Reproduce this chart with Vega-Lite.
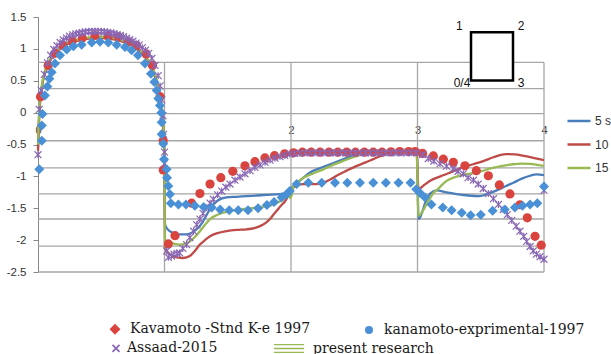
{
  "$schema": "https://vega.github.io/schema/vega-lite/v6.json",
  "width": 506,
  "height": 255,
  "autosize": {"type": "none"},
  "padding": {"left": 38, "top": 17, "right": 67, "bottom": 82},
  "background": "white",
  "config": {"view": {"stroke": null}, "font": "Liberation Sans", "axis": {"labelOverlap": false, "labelSeparation": 0}, "axisY": {"labelOverlap": false}},
  "datasets": {
    "lines": [
      {"series": "5 s", "x": 0, "y": -0.55}, {"series": "5 s", "x": 0.01, "y": 0.0}, {"series": "5 s", "x": 0.03, "y": 0.4}, {"series": "5 s", "x": 0.06, "y": 0.66}, {"series": "5 s", "x": 0.1, "y": 0.84}, {"series": "5 s", "x": 0.15, "y": 0.97}, {"series": "5 s", "x": 0.2, "y": 1.05}, {"series": "5 s", "x": 0.3, "y": 1.13}, {"series": "5 s", "x": 0.4, "y": 1.17}, {"series": "5 s", "x": 0.5, "y": 1.18}, {"series": "5 s", "x": 0.6, "y": 1.16}, {"series": "5 s", "x": 0.7, "y": 1.1}, {"series": "5 s", "x": 0.8, "y": 0.98}, {"series": "5 s", "x": 0.86, "y": 0.85}, {"series": "5 s", "x": 0.9, "y": 0.72}, {"series": "5 s", "x": 0.94, "y": 0.48}, {"series": "5 s", "x": 0.97, "y": 0.18}, {"series": "5 s", "x": 0.99, "y": -0.2}, {"series": "5 s", "x": 0.998, "y": -0.6},
      {"series": "5 s", "x": 1.004, "y": -1.75}, {"series": "5 s", "x": 1.02, "y": -1.82}, {"series": "5 s", "x": 1.07, "y": -1.89}, {"series": "5 s", "x": 1.12, "y": -1.91}, {"series": "5 s", "x": 1.175, "y": -1.91}, {"series": "5 s", "x": 1.22, "y": -1.88}, {"series": "5 s", "x": 1.255, "y": -1.83}, {"series": "5 s", "x": 1.3, "y": -1.72}, {"series": "5 s", "x": 1.334, "y": -1.6}, {"series": "5 s", "x": 1.37, "y": -1.48}, {"series": "5 s", "x": 1.413, "y": -1.39}, {"series": "5 s", "x": 1.45, "y": -1.35}, {"series": "5 s", "x": 1.49, "y": -1.33}, {"series": "5 s", "x": 1.57, "y": -1.32}, {"series": "5 s", "x": 1.65, "y": -1.31}, {"series": "5 s", "x": 1.73, "y": -1.3}, {"series": "5 s", "x": 1.81, "y": -1.29}, {"series": "5 s", "x": 1.913, "y": -1.28}, {"series": "5 s", "x": 1.96, "y": -1.25}, {"series": "5 s", "x": 1.99, "y": -1.2}, {"series": "5 s", "x": 2.02, "y": -1.15}, {"series": "5 s", "x": 2.08, "y": -1.05}, {"series": "5 s", "x": 2.15, "y": -0.94}, {"series": "5 s", "x": 2.23, "y": -0.87}, {"series": "5 s", "x": 2.31, "y": -0.81}, {"series": "5 s", "x": 2.39, "y": -0.75}, {"series": "5 s", "x": 2.466, "y": -0.69}, {"series": "5 s", "x": 2.53, "y": -0.65}, {"series": "5 s", "x": 2.6, "y": -0.625}, {"series": "5 s", "x": 2.7, "y": -0.62}, {"series": "5 s", "x": 2.8, "y": -0.62}, {"series": "5 s", "x": 2.9, "y": -0.62}, {"series": "5 s", "x": 2.995, "y": -0.62}, {"series": "5 s", "x": 3.0, "y": -1.0}, {"series": "5 s", "x": 3.008, "y": -1.67}, {"series": "5 s", "x": 3.03, "y": -1.6}, {"series": "5 s", "x": 3.06, "y": -1.42}, {"series": "5 s", "x": 3.1, "y": -1.27}, {"series": "5 s", "x": 3.15, "y": -1.22}, {"series": "5 s", "x": 3.23, "y": -1.25}, {"series": "5 s", "x": 3.31, "y": -1.28}, {"series": "5 s", "x": 3.4, "y": -1.3}, {"series": "5 s", "x": 3.49, "y": -1.31}, {"series": "5 s", "x": 3.56, "y": -1.27}, {"series": "5 s", "x": 3.626, "y": -1.22}, {"series": "5 s", "x": 3.7, "y": -1.15}, {"series": "5 s", "x": 3.757, "y": -1.1}, {"series": "5 s", "x": 3.82, "y": -1.04}, {"series": "5 s", "x": 3.89, "y": -0.99}, {"series": "5 s", "x": 3.94, "y": -0.97}, {"series": "5 s", "x": 4.0, "y": -0.98},

      {"series": "10 s", "x": 0, "y": -0.6}, {"series": "10 s", "x": 0.01, "y": -0.05}, {"series": "10 s", "x": 0.03, "y": 0.38}, {"series": "10 s", "x": 0.06, "y": 0.65}, {"series": "10 s", "x": 0.1, "y": 0.83}, {"series": "10 s", "x": 0.15, "y": 0.96}, {"series": "10 s", "x": 0.2, "y": 1.04}, {"series": "10 s", "x": 0.3, "y": 1.12}, {"series": "10 s", "x": 0.4, "y": 1.16}, {"series": "10 s", "x": 0.5, "y": 1.17}, {"series": "10 s", "x": 0.6, "y": 1.15}, {"series": "10 s", "x": 0.7, "y": 1.09}, {"series": "10 s", "x": 0.8, "y": 0.97}, {"series": "10 s", "x": 0.86, "y": 0.84}, {"series": "10 s", "x": 0.9, "y": 0.7}, {"series": "10 s", "x": 0.94, "y": 0.46}, {"series": "10 s", "x": 0.97, "y": 0.15}, {"series": "10 s", "x": 0.99, "y": -0.25}, {"series": "10 s", "x": 0.998, "y": -0.65},
      {"series": "10 s", "x": 1.004, "y": -2.12}, {"series": "10 s", "x": 1.03, "y": -2.2}, {"series": "10 s", "x": 1.057, "y": -2.24}, {"series": "10 s", "x": 1.1, "y": -2.27}, {"series": "10 s", "x": 1.15, "y": -2.28}, {"series": "10 s", "x": 1.2, "y": -2.25}, {"series": "10 s", "x": 1.24, "y": -2.17}, {"series": "10 s", "x": 1.28, "y": -2.07}, {"series": "10 s", "x": 1.32, "y": -2.0}, {"series": "10 s", "x": 1.36, "y": -1.94}, {"series": "10 s", "x": 1.42, "y": -1.89}, {"series": "10 s", "x": 1.49, "y": -1.86}, {"series": "10 s", "x": 1.57, "y": -1.84}, {"series": "10 s", "x": 1.65, "y": -1.83}, {"series": "10 s", "x": 1.71, "y": -1.81}, {"series": "10 s", "x": 1.755, "y": -1.78}, {"series": "10 s", "x": 1.8, "y": -1.73}, {"series": "10 s", "x": 1.834, "y": -1.67}, {"series": "10 s", "x": 1.865, "y": -1.59}, {"series": "10 s", "x": 1.887, "y": -1.54}, {"series": "10 s", "x": 1.92, "y": -1.46}, {"series": "10 s", "x": 1.953, "y": -1.39}, {"series": "10 s", "x": 1.98, "y": -1.3}, {"series": "10 s", "x": 2.0, "y": -1.22}, {"series": "10 s", "x": 2.05, "y": -1.14}, {"series": "10 s", "x": 2.1, "y": -1.12}, {"series": "10 s", "x": 2.15, "y": -1.12}, {"series": "10 s", "x": 2.2, "y": -1.12}, {"series": "10 s", "x": 2.255, "y": -1.1}, {"series": "10 s", "x": 2.31, "y": -1.05}, {"series": "10 s", "x": 2.36, "y": -0.99}, {"series": "10 s", "x": 2.44, "y": -0.91}, {"series": "10 s", "x": 2.52, "y": -0.835}, {"series": "10 s", "x": 2.59, "y": -0.78}, {"series": "10 s", "x": 2.65, "y": -0.73}, {"series": "10 s", "x": 2.71, "y": -0.68}, {"series": "10 s", "x": 2.757, "y": -0.65}, {"series": "10 s", "x": 2.8, "y": -0.63}, {"series": "10 s", "x": 2.84, "y": -0.62}, {"series": "10 s", "x": 2.9, "y": -0.615}, {"series": "10 s", "x": 2.97, "y": -0.61}, {"series": "10 s", "x": 2.995, "y": -0.62}, {"series": "10 s", "x": 3.0, "y": -0.9}, {"series": "10 s", "x": 3.008, "y": -1.2}, {"series": "10 s", "x": 3.05, "y": -1.14}, {"series": "10 s", "x": 3.1, "y": -1.07}, {"series": "10 s", "x": 3.18, "y": -1.0}, {"series": "10 s", "x": 3.26, "y": -0.94}, {"series": "10 s", "x": 3.34, "y": -0.87}, {"series": "10 s", "x": 3.44, "y": -0.81}, {"series": "10 s", "x": 3.52, "y": -0.76}, {"series": "10 s", "x": 3.6, "y": -0.7}, {"series": "10 s", "x": 3.7, "y": -0.65}, {"series": "10 s", "x": 3.77, "y": -0.655}, {"series": "10 s", "x": 3.84, "y": -0.68}, {"series": "10 s", "x": 3.915, "y": -0.71}, {"series": "10 s", "x": 4.0, "y": -0.745},

      {"series": "15 s", "x": 0, "y": -0.5}, {"series": "15 s", "x": 0.01, "y": 0.05}, {"series": "15 s", "x": 0.03, "y": 0.42}, {"series": "15 s", "x": 0.06, "y": 0.68}, {"series": "15 s", "x": 0.1, "y": 0.86}, {"series": "15 s", "x": 0.15, "y": 0.98}, {"series": "15 s", "x": 0.2, "y": 1.06}, {"series": "15 s", "x": 0.3, "y": 1.14}, {"series": "15 s", "x": 0.4, "y": 1.18}, {"series": "15 s", "x": 0.5, "y": 1.19}, {"series": "15 s", "x": 0.6, "y": 1.17}, {"series": "15 s", "x": 0.7, "y": 1.11}, {"series": "15 s", "x": 0.8, "y": 0.99}, {"series": "15 s", "x": 0.86, "y": 0.86}, {"series": "15 s", "x": 0.9, "y": 0.73}, {"series": "15 s", "x": 0.94, "y": 0.5}, {"series": "15 s", "x": 0.97, "y": 0.2}, {"series": "15 s", "x": 0.99, "y": -0.15}, {"series": "15 s", "x": 0.998, "y": -0.55},
      {"series": "15 s", "x": 1.004, "y": -2.12}, {"series": "15 s", "x": 1.02, "y": -2.05}, {"series": "15 s", "x": 1.043, "y": -2.03}, {"series": "15 s", "x": 1.08, "y": -2.06}, {"series": "15 s", "x": 1.12, "y": -2.07}, {"series": "15 s", "x": 1.16, "y": -2.06}, {"series": "15 s", "x": 1.2, "y": -2.02}, {"series": "15 s", "x": 1.24, "y": -1.95}, {"series": "15 s", "x": 1.28, "y": -1.86}, {"series": "15 s", "x": 1.32, "y": -1.76}, {"series": "15 s", "x": 1.36, "y": -1.67}, {"series": "15 s", "x": 1.41, "y": -1.61}, {"series": "15 s", "x": 1.465, "y": -1.57}, {"series": "15 s", "x": 1.53, "y": -1.54}, {"series": "15 s", "x": 1.597, "y": -1.52}, {"series": "15 s", "x": 1.66, "y": -1.505}, {"series": "15 s", "x": 1.73, "y": -1.49}, {"series": "15 s", "x": 1.79, "y": -1.475}, {"series": "15 s", "x": 1.834, "y": -1.46}, {"series": "15 s", "x": 1.87, "y": -1.43}, {"series": "15 s", "x": 1.913, "y": -1.39}, {"series": "15 s", "x": 1.95, "y": -1.33}, {"series": "15 s", "x": 1.98, "y": -1.28}, {"series": "15 s", "x": 1.995, "y": -1.34}, {"series": "15 s", "x": 2.005, "y": -1.3}, {"series": "15 s", "x": 2.02, "y": -1.15}, {"series": "15 s", "x": 2.06, "y": -1.08}, {"series": "15 s", "x": 2.1, "y": -1.02}, {"series": "15 s", "x": 2.18, "y": -0.95}, {"series": "15 s", "x": 2.255, "y": -0.89}, {"series": "15 s", "x": 2.33, "y": -0.82}, {"series": "15 s", "x": 2.41, "y": -0.76}, {"series": "15 s", "x": 2.49, "y": -0.7}, {"series": "15 s", "x": 2.57, "y": -0.65}, {"series": "15 s", "x": 2.64, "y": -0.625}, {"series": "15 s", "x": 2.7, "y": -0.62}, {"series": "15 s", "x": 2.8, "y": -0.62}, {"series": "15 s", "x": 2.9, "y": -0.62}, {"series": "15 s", "x": 2.99, "y": -0.62}, {"series": "15 s", "x": 3.0, "y": -1.0}, {"series": "15 s", "x": 3.005, "y": -1.62}, {"series": "15 s", "x": 3.04, "y": -1.55}, {"series": "15 s", "x": 3.07, "y": -1.44}, {"series": "15 s", "x": 3.1, "y": -1.34}, {"series": "15 s", "x": 3.125, "y": -1.26}, {"series": "15 s", "x": 3.15, "y": -1.22}, {"series": "15 s", "x": 3.2, "y": -1.12}, {"series": "15 s", "x": 3.23, "y": -1.07}, {"series": "15 s", "x": 3.3, "y": -1.01}, {"series": "15 s", "x": 3.39, "y": -0.965}, {"series": "15 s", "x": 3.47, "y": -0.94}, {"series": "15 s", "x": 3.57, "y": -0.88}, {"series": "15 s", "x": 3.66, "y": -0.84}, {"series": "15 s", "x": 3.757, "y": -0.81}, {"series": "15 s", "x": 3.82, "y": -0.8}, {"series": "15 s", "x": 3.89, "y": -0.805}, {"series": "15 s", "x": 3.95, "y": -0.82}, {"series": "15 s", "x": 4.0, "y": -0.835}
    ],
    "kav": [
      {"series": "Kavamoto  -Stnd K-e  1997", "x": 0.02, "y": 0.25}, {"series": "Kavamoto  -Stnd K-e  1997", "x": 0.08, "y": 0.74}, {"series": "Kavamoto  -Stnd K-e  1997", "x": 0.135, "y": 0.93}, {"series": "Kavamoto  -Stnd K-e  1997", "x": 0.2, "y": 1.05}, {"series": "Kavamoto  -Stnd K-e  1997", "x": 0.27, "y": 1.12}, {"series": "Kavamoto  -Stnd K-e  1997", "x": 0.35, "y": 1.17}, {"series": "Kavamoto  -Stnd K-e  1997", "x": 0.45, "y": 1.21}, {"series": "Kavamoto  -Stnd K-e  1997", "x": 0.555, "y": 1.2}, {"series": "Kavamoto  -Stnd K-e  1997", "x": 0.635, "y": 1.19}, {"series": "Kavamoto  -Stnd K-e  1997", "x": 0.715, "y": 1.11}, {"series": "Kavamoto  -Stnd K-e  1997", "x": 0.78, "y": 1.05}, {"series": "Kavamoto  -Stnd K-e  1997", "x": 0.855, "y": 0.92}, {"series": "Kavamoto  -Stnd K-e  1997", "x": 0.905, "y": 0.74}, {"series": "Kavamoto  -Stnd K-e  1997", "x": 0.965, "y": 0.25}, {"series": "Kavamoto  -Stnd K-e  1997", "x": 0.99, "y": -0.44}, {"series": "Kavamoto  -Stnd K-e  1997", "x": 0.99, "y": -0.9}, {"series": "Kavamoto  -Stnd K-e  1997", "x": 1.03, "y": -2.06}, {"series": "Kavamoto  -Stnd K-e  1997", "x": 1.083, "y": -1.93}, {"series": "Kavamoto  -Stnd K-e  1997", "x": 1.215, "y": -1.42}, {"series": "Kavamoto  -Stnd K-e  1997", "x": 1.28, "y": -1.27}, {"series": "Kavamoto  -Stnd K-e  1997", "x": 1.36, "y": -1.12}, {"series": "Kavamoto  -Stnd K-e  1997", "x": 1.445, "y": -1.02}, {"series": "Kavamoto  -Stnd K-e  1997", "x": 1.54, "y": -0.92}, {"series": "Kavamoto  -Stnd K-e  1997", "x": 1.636, "y": -0.835}, {"series": "Kavamoto  -Stnd K-e  1997", "x": 1.715, "y": -0.77}, {"series": "Kavamoto  -Stnd K-e  1997", "x": 1.794, "y": -0.71}, {"series": "Kavamoto  -Stnd K-e  1997", "x": 1.87, "y": -0.675}, {"series": "Kavamoto  -Stnd K-e  1997", "x": 1.95, "y": -0.645}, {"series": "Kavamoto  -Stnd K-e  1997", "x": 2.02, "y": -0.63}, {"series": "Kavamoto  -Stnd K-e  1997", "x": 2.09, "y": -0.62}, {"series": "Kavamoto  -Stnd K-e  1997", "x": 2.16, "y": -0.62}, {"series": "Kavamoto  -Stnd K-e  1997", "x": 2.23, "y": -0.62}, {"series": "Kavamoto  -Stnd K-e  1997", "x": 2.3, "y": -0.62}, {"series": "Kavamoto  -Stnd K-e  1997", "x": 2.37, "y": -0.62}, {"series": "Kavamoto  -Stnd K-e  1997", "x": 2.44, "y": -0.62}, {"series": "Kavamoto  -Stnd K-e  1997", "x": 2.51, "y": -0.62}, {"series": "Kavamoto  -Stnd K-e  1997", "x": 2.58, "y": -0.62}, {"series": "Kavamoto  -Stnd K-e  1997", "x": 2.65, "y": -0.62}, {"series": "Kavamoto  -Stnd K-e  1997", "x": 2.72, "y": -0.62}, {"series": "Kavamoto  -Stnd K-e  1997", "x": 2.79, "y": -0.615}, {"series": "Kavamoto  -Stnd K-e  1997", "x": 2.86, "y": -0.61}, {"series": "Kavamoto  -Stnd K-e  1997", "x": 2.93, "y": -0.61}, {"series": "Kavamoto  -Stnd K-e  1997", "x": 2.98, "y": -0.61}, {"series": "Kavamoto  -Stnd K-e  1997", "x": 3.04, "y": -0.64}, {"series": "Kavamoto  -Stnd K-e  1997", "x": 3.125, "y": -0.68}, {"series": "Kavamoto  -Stnd K-e  1997", "x": 3.204, "y": -0.73}, {"series": "Kavamoto  -Stnd K-e  1997", "x": 3.283, "y": -0.78}, {"series": "Kavamoto  -Stnd K-e  1997", "x": 3.375, "y": -0.835}, {"series": "Kavamoto  -Stnd K-e  1997", "x": 3.465, "y": -0.91}, {"series": "Kavamoto  -Stnd K-e  1997", "x": 3.56, "y": -0.99}, {"series": "Kavamoto  -Stnd K-e  1997", "x": 3.647, "y": -1.135}, {"series": "Kavamoto  -Stnd K-e  1997", "x": 3.731, "y": -1.275}, {"series": "Kavamoto  -Stnd K-e  1997", "x": 3.81, "y": -1.445}, {"series": "Kavamoto  -Stnd K-e  1997", "x": 3.868, "y": -1.65}, {"series": "Kavamoto  -Stnd K-e  1997", "x": 3.929, "y": -1.94}, {"series": "Kavamoto  -Stnd K-e  1997", "x": 3.978, "y": -2.08}
    ],
    "kan": [
      {"series": "kanamoto-exprimental-1997", "x": 0.01, "y": -0.89}, {"series": "kanamoto-exprimental-1997", "x": 0.03, "y": -0.44}, {"series": "kanamoto-exprimental-1997", "x": 0.03, "y": -0.2}, {"series": "kanamoto-exprimental-1997", "x": 0.035, "y": -0.02}, {"series": "kanamoto-exprimental-1997", "x": 0.055, "y": 0.27}, {"series": "kanamoto-exprimental-1997", "x": 0.074, "y": 0.41}, {"series": "kanamoto-exprimental-1997", "x": 0.09, "y": 0.53}, {"series": "kanamoto-exprimental-1997", "x": 0.108, "y": 0.635}, {"series": "kanamoto-exprimental-1997", "x": 0.134, "y": 0.77}, {"series": "kanamoto-exprimental-1997", "x": 0.174, "y": 0.9}, {"series": "kanamoto-exprimental-1997", "x": 0.227, "y": 0.99}, {"series": "kanamoto-exprimental-1997", "x": 0.28, "y": 1.04}, {"series": "kanamoto-exprimental-1997", "x": 0.345, "y": 1.066}, {"series": "kanamoto-exprimental-1997", "x": 0.425, "y": 1.1}, {"series": "kanamoto-exprimental-1997", "x": 0.49, "y": 1.11}, {"series": "kanamoto-exprimental-1997", "x": 0.556, "y": 1.1}, {"series": "kanamoto-exprimental-1997", "x": 0.622, "y": 1.066}, {"series": "kanamoto-exprimental-1997", "x": 0.688, "y": 1.03}, {"series": "kanamoto-exprimental-1997", "x": 0.74, "y": 0.98}, {"series": "kanamoto-exprimental-1997", "x": 0.79, "y": 0.9}, {"series": "kanamoto-exprimental-1997", "x": 0.846, "y": 0.77}, {"series": "kanamoto-exprimental-1997", "x": 0.893, "y": 0.61}, {"series": "kanamoto-exprimental-1997", "x": 0.92, "y": 0.48}, {"series": "kanamoto-exprimental-1997", "x": 0.938, "y": 0.35}, {"series": "kanamoto-exprimental-1997", "x": 0.951, "y": 0.22}, {"series": "kanamoto-exprimental-1997", "x": 0.964, "y": 0.11}, {"series": "kanamoto-exprimental-1997", "x": 0.975, "y": 0.0}, {"series": "kanamoto-exprimental-1997", "x": 0.978, "y": -0.15}, {"series": "kanamoto-exprimental-1997", "x": 0.978, "y": -0.34}, {"series": "kanamoto-exprimental-1997", "x": 0.99, "y": -0.49}, {"series": "kanamoto-exprimental-1997", "x": 0.996, "y": -0.73}, {"series": "kanamoto-exprimental-1997", "x": 1.017, "y": -0.89}, {"series": "kanamoto-exprimental-1997", "x": 1.02, "y": -1.02}, {"series": "kanamoto-exprimental-1997", "x": 1.03, "y": -1.15}, {"series": "kanamoto-exprimental-1997", "x": 1.043, "y": -1.28}, {"series": "kanamoto-exprimental-1997", "x": 1.05, "y": -1.42}, {"series": "kanamoto-exprimental-1997", "x": 1.11, "y": -1.44}, {"series": "kanamoto-exprimental-1997", "x": 1.17, "y": -1.44}, {"series": "kanamoto-exprimental-1997", "x": 1.24, "y": -1.46}, {"series": "kanamoto-exprimental-1997", "x": 1.31, "y": -1.48}, {"series": "kanamoto-exprimental-1997", "x": 1.373, "y": -1.49}, {"series": "kanamoto-exprimental-1997", "x": 1.44, "y": -1.52}, {"series": "kanamoto-exprimental-1997", "x": 1.512, "y": -1.53}, {"series": "kanamoto-exprimental-1997", "x": 1.583, "y": -1.53}, {"series": "kanamoto-exprimental-1997", "x": 1.66, "y": -1.53}, {"series": "kanamoto-exprimental-1997", "x": 1.74, "y": -1.5}, {"series": "kanamoto-exprimental-1997", "x": 1.81, "y": -1.45}, {"series": "kanamoto-exprimental-1997", "x": 1.866, "y": -1.4}, {"series": "kanamoto-exprimental-1997", "x": 1.926, "y": -1.33}, {"series": "kanamoto-exprimental-1997", "x": 1.966, "y": -1.28}, {"series": "kanamoto-exprimental-1997", "x": 1.99, "y": -1.23}, {"series": "kanamoto-exprimental-1997", "x": 2.045, "y": -1.12}, {"series": "kanamoto-exprimental-1997", "x": 2.137, "y": -1.1}, {"series": "kanamoto-exprimental-1997", "x": 2.243, "y": -1.1}, {"series": "kanamoto-exprimental-1997", "x": 2.348, "y": -1.1}, {"series": "kanamoto-exprimental-1997", "x": 2.445, "y": -1.1}, {"series": "kanamoto-exprimental-1997", "x": 2.545, "y": -1.1}, {"series": "kanamoto-exprimental-1997", "x": 2.65, "y": -1.1}, {"series": "kanamoto-exprimental-1997", "x": 2.75, "y": -1.1}, {"series": "kanamoto-exprimental-1997", "x": 2.85, "y": -1.1}, {"series": "kanamoto-exprimental-1997", "x": 2.945, "y": -1.1}, {"series": "kanamoto-exprimental-1997", "x": 2.99, "y": -1.2}, {"series": "kanamoto-exprimental-1997", "x": 3.02, "y": -1.26}, {"series": "kanamoto-exprimental-1997", "x": 3.06, "y": -1.33}, {"series": "kanamoto-exprimental-1997", "x": 3.11, "y": -1.44}, {"series": "kanamoto-exprimental-1997", "x": 3.2, "y": -1.49}, {"series": "kanamoto-exprimental-1997", "x": 3.27, "y": -1.53}, {"series": "kanamoto-exprimental-1997", "x": 3.35, "y": -1.57}, {"series": "kanamoto-exprimental-1997", "x": 3.42, "y": -1.61}, {"series": "kanamoto-exprimental-1997", "x": 3.5, "y": -1.6}, {"series": "kanamoto-exprimental-1997", "x": 3.594, "y": -1.54}, {"series": "kanamoto-exprimental-1997", "x": 3.69, "y": -1.52}, {"series": "kanamoto-exprimental-1997", "x": 3.77, "y": -1.49}, {"series": "kanamoto-exprimental-1997", "x": 3.83, "y": -1.46}, {"series": "kanamoto-exprimental-1997", "x": 3.89, "y": -1.44}, {"series": "kanamoto-exprimental-1997", "x": 3.947, "y": -1.42}, {"series": "kanamoto-exprimental-1997", "x": 4.0, "y": -1.16}
    ],
    "assaad": [
      {"series": "Assaad-2015", "x": 0.0, "y": -0.66}, {"series": "Assaad-2015", "x": 0.01, "y": 0.05}, {"series": "Assaad-2015", "x": 0.025, "y": 0.35}, {"series": "Assaad-2015", "x": 0.05, "y": 0.6}, {"series": "Assaad-2015", "x": 0.075, "y": 0.78}, {"series": "Assaad-2015", "x": 0.1, "y": 0.9}, {"series": "Assaad-2015", "x": 0.125, "y": 0.99}, {"series": "Assaad-2015", "x": 0.15, "y": 1.05}, {"series": "Assaad-2015", "x": 0.175, "y": 1.1}, {"series": "Assaad-2015", "x": 0.2, "y": 1.14}, {"series": "Assaad-2015", "x": 0.225, "y": 1.17}, {"series": "Assaad-2015", "x": 0.25, "y": 1.2}, {"series": "Assaad-2015", "x": 0.275, "y": 1.22}, {"series": "Assaad-2015", "x": 0.3, "y": 1.235}, {"series": "Assaad-2015", "x": 0.325, "y": 1.245}, {"series": "Assaad-2015", "x": 0.35, "y": 1.255}, {"series": "Assaad-2015", "x": 0.375, "y": 1.265}, {"series": "Assaad-2015", "x": 0.4, "y": 1.27}, {"series": "Assaad-2015", "x": 0.425, "y": 1.275}, {"series": "Assaad-2015", "x": 0.45, "y": 1.275}, {"series": "Assaad-2015", "x": 0.475, "y": 1.275}, {"series": "Assaad-2015", "x": 0.5, "y": 1.27}, {"series": "Assaad-2015", "x": 0.525, "y": 1.265}, {"series": "Assaad-2015", "x": 0.55, "y": 1.26}, {"series": "Assaad-2015", "x": 0.575, "y": 1.25}, {"series": "Assaad-2015", "x": 0.6, "y": 1.24}, {"series": "Assaad-2015", "x": 0.625, "y": 1.225}, {"series": "Assaad-2015", "x": 0.65, "y": 1.21}, {"series": "Assaad-2015", "x": 0.675, "y": 1.19}, {"series": "Assaad-2015", "x": 0.7, "y": 1.17}, {"series": "Assaad-2015", "x": 0.725, "y": 1.145}, {"series": "Assaad-2015", "x": 0.75, "y": 1.12}, {"series": "Assaad-2015", "x": 0.775, "y": 1.09}, {"series": "Assaad-2015", "x": 0.8, "y": 1.06}, {"series": "Assaad-2015", "x": 0.825, "y": 1.02}, {"series": "Assaad-2015", "x": 0.85, "y": 0.98}, {"series": "Assaad-2015", "x": 0.875, "y": 0.93}, {"series": "Assaad-2015", "x": 0.9, "y": 0.85}, {"series": "Assaad-2015", "x": 0.925, "y": 0.74}, {"series": "Assaad-2015", "x": 0.95, "y": 0.58}, {"series": "Assaad-2015", "x": 0.965, "y": 0.42}, {"series": "Assaad-2015", "x": 0.978, "y": 0.2}, {"series": "Assaad-2015", "x": 0.988, "y": -0.05}, {"series": "Assaad-2015", "x": 0.992, "y": -0.34}, {"series": "Assaad-2015", "x": 1.0, "y": -0.62}, {"series": "Assaad-2015", "x": 1.0, "y": -0.8},
      {"series": "Assaad-2015", "x": 1.017, "y": -2.17}, {"series": "Assaad-2015", "x": 1.03, "y": -2.27}, {"series": "Assaad-2015", "x": 1.055, "y": -2.25}, {"series": "Assaad-2015", "x": 1.075, "y": -2.22}, {"series": "Assaad-2015", "x": 1.1, "y": -2.21}, {"series": "Assaad-2015", "x": 1.12, "y": -2.2}, {"series": "Assaad-2015", "x": 1.145, "y": -2.13}, {"series": "Assaad-2015", "x": 1.175, "y": -2.07}, {"series": "Assaad-2015", "x": 1.2, "y": -1.96}, {"series": "Assaad-2015", "x": 1.23, "y": -1.86}, {"series": "Assaad-2015", "x": 1.255, "y": -1.76}, {"series": "Assaad-2015", "x": 1.28, "y": -1.67}, {"series": "Assaad-2015", "x": 1.305, "y": -1.58}, {"series": "Assaad-2015", "x": 1.334, "y": -1.49}, {"series": "Assaad-2015", "x": 1.36, "y": -1.42}, {"series": "Assaad-2015", "x": 1.386, "y": -1.36}, {"series": "Assaad-2015", "x": 1.42, "y": -1.29}, {"series": "Assaad-2015", "x": 1.452, "y": -1.23}, {"series": "Assaad-2015", "x": 1.485, "y": -1.17}, {"series": "Assaad-2015", "x": 1.518, "y": -1.12}, {"series": "Assaad-2015", "x": 1.557, "y": -1.06}, {"series": "Assaad-2015", "x": 1.597, "y": -1.01}, {"series": "Assaad-2015", "x": 1.636, "y": -0.96}, {"series": "Assaad-2015", "x": 1.676, "y": -0.91}, {"series": "Assaad-2015", "x": 1.715, "y": -0.86}, {"series": "Assaad-2015", "x": 1.755, "y": -0.82}, {"series": "Assaad-2015", "x": 1.795, "y": -0.78}, {"series": "Assaad-2015", "x": 1.834, "y": -0.745}, {"series": "Assaad-2015", "x": 1.873, "y": -0.715}, {"series": "Assaad-2015", "x": 1.913, "y": -0.69}, {"series": "Assaad-2015", "x": 1.95, "y": -0.67}, {"series": "Assaad-2015", "x": 1.99, "y": -0.65},
      {"series": "Assaad-2015", "x": 2.03, "y": -0.64}, {"series": "Assaad-2015", "x": 2.07, "y": -0.635}, {"series": "Assaad-2015", "x": 2.11, "y": -0.63}, {"series": "Assaad-2015", "x": 2.15, "y": -0.63}, {"series": "Assaad-2015", "x": 2.19, "y": -0.63}, {"series": "Assaad-2015", "x": 2.23, "y": -0.63}, {"series": "Assaad-2015", "x": 2.27, "y": -0.63}, {"series": "Assaad-2015", "x": 2.31, "y": -0.63}, {"series": "Assaad-2015", "x": 2.35, "y": -0.63}, {"series": "Assaad-2015", "x": 2.39, "y": -0.63}, {"series": "Assaad-2015", "x": 2.43, "y": -0.63}, {"series": "Assaad-2015", "x": 2.47, "y": -0.63}, {"series": "Assaad-2015", "x": 2.51, "y": -0.63}, {"series": "Assaad-2015", "x": 2.55, "y": -0.63}, {"series": "Assaad-2015", "x": 2.59, "y": -0.63}, {"series": "Assaad-2015", "x": 2.63, "y": -0.63}, {"series": "Assaad-2015", "x": 2.67, "y": -0.63}, {"series": "Assaad-2015", "x": 2.71, "y": -0.63}, {"series": "Assaad-2015", "x": 2.75, "y": -0.63}, {"series": "Assaad-2015", "x": 2.79, "y": -0.63}, {"series": "Assaad-2015", "x": 2.83, "y": -0.63}, {"series": "Assaad-2015", "x": 2.87, "y": -0.63}, {"series": "Assaad-2015", "x": 2.91, "y": -0.63}, {"series": "Assaad-2015", "x": 2.95, "y": -0.63}, {"series": "Assaad-2015", "x": 2.99, "y": -0.63},
      {"series": "Assaad-2015", "x": 3.04, "y": -0.66}, {"series": "Assaad-2015", "x": 3.085, "y": -0.72}, {"series": "Assaad-2015", "x": 3.13, "y": -0.76}, {"series": "Assaad-2015", "x": 3.178, "y": -0.8}, {"series": "Assaad-2015", "x": 3.23, "y": -0.84}, {"series": "Assaad-2015", "x": 3.283, "y": -0.88}, {"series": "Assaad-2015", "x": 3.32, "y": -0.92}, {"series": "Assaad-2015", "x": 3.362, "y": -0.96}, {"series": "Assaad-2015", "x": 3.4, "y": -1.02}, {"series": "Assaad-2015", "x": 3.442, "y": -1.06}, {"series": "Assaad-2015", "x": 3.48, "y": -1.12}, {"series": "Assaad-2015", "x": 3.52, "y": -1.19}, {"series": "Assaad-2015", "x": 3.56, "y": -1.27}, {"series": "Assaad-2015", "x": 3.6, "y": -1.35}, {"series": "Assaad-2015", "x": 3.64, "y": -1.44}, {"series": "Assaad-2015", "x": 3.678, "y": -1.52}, {"series": "Assaad-2015", "x": 3.71, "y": -1.6}, {"series": "Assaad-2015", "x": 3.745, "y": -1.69}, {"series": "Assaad-2015", "x": 3.78, "y": -1.78}, {"series": "Assaad-2015", "x": 3.81, "y": -1.86}, {"series": "Assaad-2015", "x": 3.84, "y": -1.94}, {"series": "Assaad-2015", "x": 3.863, "y": -2.02}, {"series": "Assaad-2015", "x": 3.89, "y": -2.1}, {"series": "Assaad-2015", "x": 3.915, "y": -2.17}, {"series": "Assaad-2015", "x": 3.94, "y": -2.22}, {"series": "Assaad-2015", "x": 3.968, "y": -2.26}, {"series": "Assaad-2015", "x": 4.0, "y": -2.3}, {"series": "Assaad-2015", "x": 4.0, "y": -1.22}
    ]
  },
  "layer": [
    {
      "data": {"values": [{"g": 0.787}, {"g": 0.378}, {"g": -0.016}, {"g": -0.441}, {"g": -0.866}, {"g": -1.276}, {"g": -1.669}, {"g": -2.094}, {"g": -2.5}]},
      "mark": {"type": "rule", "color": "#a6a6a6", "strokeWidth": 1.3},
      "encoding": {
        "y": {"field": "g", "type": "quantitative",
              "scale": {"domain": [-2.5, 1.5], "nice": false, "zero": false},
              "axis": {"title": null, "grid": false, "values": [-2.5, -2, -1.5, -1, -0.5, 0, 0.5, 1, 1.5], "tickCount": 9,
                       "labelExpr": "toString(datum.value)", "domainColor": "#888888", "tickColor": "#888888", "tickSize": 5,
                       "labelPadding": 7, "labelFontSize": 11.5, "labelColor": "#333333", "labelFont": "Liberation Sans",
                       "labelFlush": false, "labelOverlap": false, "labelSeparation": 0, "labelBound": false}},
        "x": {"datum": 0, "type": "quantitative"},
        "x2": {"datum": 4}
      }
    },
    {
      "data": {"values": [{"v": 1}, {"v": 2}, {"v": 3}, {"v": 4}]},
      "mark": {"type": "rule", "color": "#a6a6a6", "strokeWidth": 1.3},
      "encoding": {
        "x": {"field": "v", "type": "quantitative"},
        "y": {"datum": 0.787, "type": "quantitative"},
        "y2": {"datum": -2.5}
      }
    },
    {
      "data": {"name": "lines"},
      "mark": {"type": "line", "strokeWidth": 2.3, "interpolate": "monotone", "clip": false},
      "encoding": {
        "x": {"field": "x", "type": "quantitative",
              "scale": {"domain": [0, 4], "nice": false, "zero": false},
              "axis": {"title": null, "orient": "bottom", "offset": -160, "domain": false, "ticks": false, "grid": false,
                       "values": [0, 1, 2, 3, 4], "labelExpr": "datum.value == 1 ? '' : toString(datum.value)",
                       "labelFlush": false, "labelOverlap": false, "labelPadding": 12, "labelFontSize": 11, "labelColor": "#404040", "labelFont": "Liberation Sans"}},
        "y": {"field": "y", "type": "quantitative",
              "axis": {"title": null, "grid": false, "values": [-2.5, -2, -1.5, -1, -0.5, 0, 0.5, 1, 1.5], "tickCount": 9,
                       "labelExpr": "toString(datum.value)", "domainColor": "#888888", "tickColor": "#888888", "tickSize": 5,
                       "labelPadding": 7, "labelFontSize": 11.5, "labelColor": "#333333", "labelFont": "Liberation Sans",
                       "labelFlush": false, "labelOverlap": false, "labelSeparation": 0, "labelBound": false}},
        "color": {"field": "series", "type": "nominal",
                  "scale": {"domain": ["5 s", "10 s", "15 s"], "range": ["#4a7ebb", "#be4b48", "#98b954"]},
                  "legend": {"orient": "none", "legendX": 528, "legendY": 91, "title": null, "symbolType": "stroke",
                             "symbolStrokeWidth": 2.5, "symbolSize": 529, "labelFontSize": 12, "labelFont": "Liberation Sans",
                             "labelColor": "#333333", "rowPadding": 4.5, "padding": 0, "labelOffset": 3, "labelLimit": 0}}
      }
    },
    {
      "data": {"name": "kav"},
      "mark": {"type": "point", "shape": "circle", "filled": true, "size": 85, "opacity": 1},
      "encoding": {
        "x": {"field": "x", "type": "quantitative"},
        "y": {"field": "y", "type": "quantitative"},
        "fill": {"field": "series", "type": "nominal",
                 "scale": {"domain": ["Kavamoto  -Stnd K-e  1997", "kanamoto-exprimental-1997"], "range": ["#d9443f", "#4990d6"]},
                 "legend": {"orient": "none", "direction": "horizontal", "legendX": 70, "legendY": 305, "title": null,
                            "symbolSize": 121, "labelOffset": 8, "columnPadding": 42, "padding": 0, "labelLimit": 0,
                            "labelFont": "DejaVu Serif", "labelFontSize": 14, "labelColor": "#1a1a1a",
                            "encoding": {"symbols": {
                              "shape": {"value": {"expr": "datum.value === 'kanamoto-exprimental-1997' ? 'circle' : 'diamond'"}},
                              "fill": {"value": {"expr": "datum.value === 'kanamoto-exprimental-1997' ? '#5b9bd5' : '#ee1111'"}},
                              "size": {"value": {"expr": "datum.value === 'kanamoto-exprimental-1997' ? 64 : 121"}}}}}}
      }
    },
    {
      "data": {"name": "assaad"},
      "mark": {"type": "point", "shape": "M-1,-1L1,1M-1,1L1,-1M0,-1L0,1", "filled": false, "size": 48, "strokeWidth": 1.2, "opacity": 1},
      "encoding": {
        "x": {"field": "x", "type": "quantitative"},
        "y": {"field": "y", "type": "quantitative"},
        "stroke": {"field": "series", "type": "nominal",
                   "scale": {"domain": ["Assaad-2015", "present research"], "range": ["#8867b5", "#98b954"]},
                   "legend": {"orient": "none", "direction": "horizontal", "legendX": 71, "legendY": 324, "title": null,
                              "symbolSize": 49, "labelOffset": 4, "columnPadding": 53, "padding": 0, "labelLimit": 0,
                              "labelFont": "DejaVu Serif", "labelFontSize": 14, "labelColor": "#1a1a1a",
                              "encoding": {"symbols": {
                                "shape": {"value": {"expr": "datum.value === 'present research' ? 'M-8,-1.1L0.6,-1.1M-8,0L0.6,0M-8,1.1L0.6,1.1' : 'M-1,-1L1,1M-1,1L1,-1'"}},
                                "size": {"value": 49},
                                "strokeWidth": {"value": {"expr": "datum.value === 'present research' ? 1.3 : 1.8"}},
                                "stroke": {"value": {"expr": "datum.value === 'present research' ? '#8fc06a' : '#5e4596'"}}}}}}
      }
    },
    {
      "data": {"name": "kan"},
      "mark": {"type": "point", "shape": "diamond", "filled": true, "size": 100, "opacity": 1},
      "encoding": {
        "x": {"field": "x", "type": "quantitative"},
        "y": {"field": "y", "type": "quantitative"},
        "fill": {"field": "series", "type": "nominal"}
      }
    },
    {
      "data": {"values": [{}]},
      "mark": {"type": "rect", "fill": "white", "stroke": "black", "strokeWidth": 2.5, "clip": false},
      "encoding": {
        "x": {"datum": 3.423, "type": "quantitative"},
        "x2": {"datum": 3.755},
        "y": {"datum": 1.26, "type": "quantitative"},
        "y2": {"datum": 0.504}
      }
    },
    {
      "data": {"values": [{}]},
      "mark": {"type": "text", "text": "1", "fontSize": 12, "font": "Liberation Sans", "color": "#111111"},
      "encoding": {"x": {"datum": 3.33, "type": "quantitative"}, "y": {"datum": 1.36, "type": "quantitative"}}
    },
    {
      "data": {"values": [{}]},
      "mark": {"type": "text", "text": "2", "fontSize": 12, "font": "Liberation Sans", "color": "#111111"},
      "encoding": {"x": {"datum": 3.818, "type": "quantitative"}, "y": {"datum": 1.36, "type": "quantitative"}}
    },
    {
      "data": {"values": [{}]},
      "mark": {"type": "text", "text": "0/4", "fontSize": 12, "font": "Liberation Sans", "color": "#111111"},
      "encoding": {"x": {"datum": 3.352, "type": "quantitative"}, "y": {"datum": 0.47, "type": "quantitative"}}
    },
    {
      "data": {"values": [{}]},
      "mark": {"type": "text", "text": "3", "fontSize": 12, "font": "Liberation Sans", "color": "#111111"},
      "encoding": {"x": {"datum": 3.818, "type": "quantitative"}, "y": {"datum": 0.47, "type": "quantitative"}}
    }
  ]
}
